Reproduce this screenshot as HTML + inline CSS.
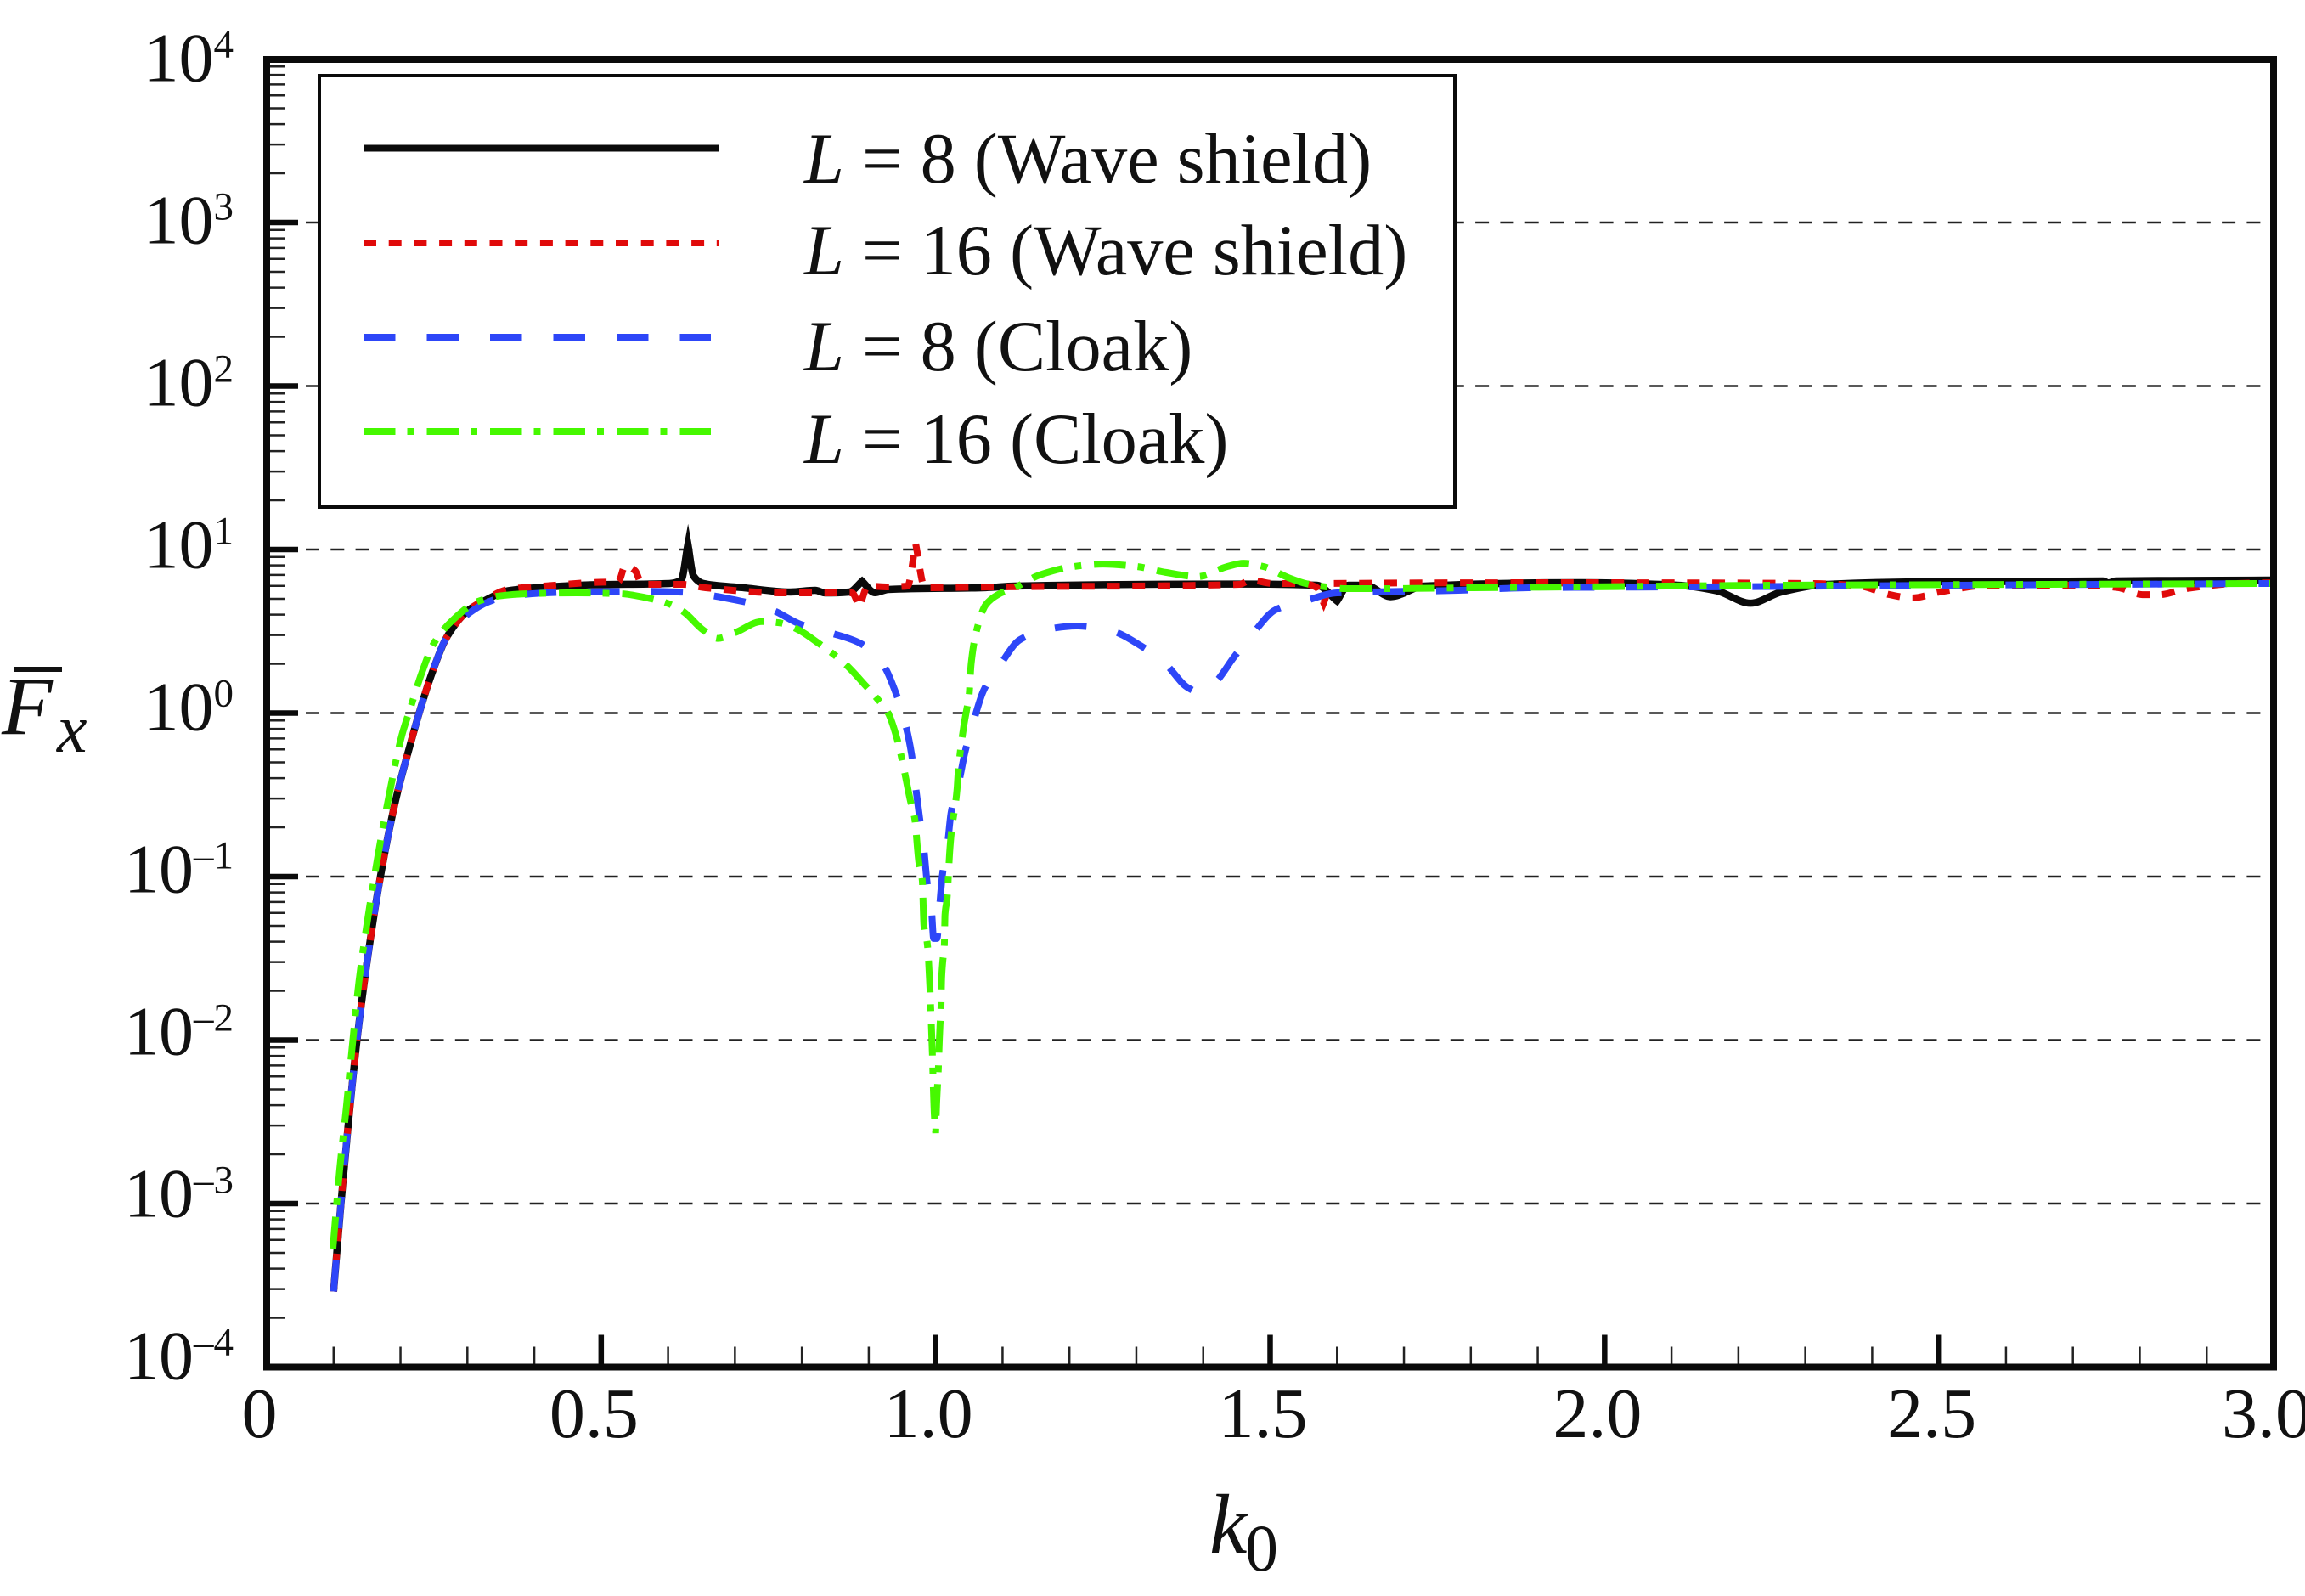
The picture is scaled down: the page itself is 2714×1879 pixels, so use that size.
<!DOCTYPE html>
<html lang="en">
<head>
<meta charset="utf-8">
<title>Mean force versus wavenumber</title>
<style>
html,body{margin:0;padding:0;background:#fff;}
svg{display:block;}
text{font-family:"Liberation Serif",serif;fill:#111;}
</style>
</head>
<body>
<svg id="chart" xmlns="http://www.w3.org/2000/svg" width="2714" height="1879" viewBox="0 0 2714 1879">
  <rect x="0" y="0" width="2714" height="1879" fill="#fff"/>
  <g id="grid"></g>
  <g id="series"></g>
  <g id="ticks"></g>
  <rect x="314" y="70" width="2363" height="1539.5" fill="none" stroke="#0a0a0a" stroke-width="8"/>
  <g id="tick-labels"></g>
  <g>
    <rect x="376" y="89" width="1337" height="508" fill="#fff" stroke="#0a0a0a" stroke-width="4"/>
    <line x1="428" y1="174.500" x2="846" y2="174.500" stroke="#0a0a0a" stroke-width="8"/>
    <line x1="428" y1="286" x2="846" y2="286" stroke="#e00a0a" stroke-width="8" stroke-dasharray="15 14.700"/>
    <line x1="428" y1="397" x2="837" y2="397" stroke="#2d46f8" stroke-width="8" stroke-dasharray="37.500 37"/>
    <line x1="428" y1="508" x2="837" y2="508" stroke="#46f800" stroke-width="8" stroke-dasharray="37.500 14 8 15"/>
    <text x="947" y="215" font-size="84.300"><tspan font-style="italic">L</tspan> = 8 (Wave shield)</text>
    <text x="947" y="323" font-size="84.300"><tspan font-style="italic">L</tspan> = 16 (Wave shield)</text>
    <text x="947" y="436" font-size="84.300"><tspan font-style="italic">L</tspan> = 8 (Cloak)</text>
    <text x="947" y="545" font-size="84.300"><tspan font-style="italic">L</tspan> = 16 (Cloak)</text>
  </g>
  <g>
    <line x1="16" y1="788" x2="73" y2="788" stroke="#111" stroke-width="6"/>
    <text x="2" y="864" font-size="98" font-style="italic">F</text>
    <text x="67" y="885" font-size="80" font-style="italic">x</text>
  </g>
  <g>
    <text x="1424" y="1828" font-size="100" font-style="italic">k</text>
    <text x="1466" y="1849" font-size="78">0</text>
  </g>
</svg>
<script>
// ---- chart data ----
const xTickLabels = ['0', '0.5', '1.0', '1.5', '2.0', '2.5', '3.0'];
const xMajorTicks = [0, 0.5, 1.0, 1.5, 2.0, 2.5, 3.0];
const yExponents = [4, 3, 2, 1, 0, -1, -2, -3, -4];
const yGridExponents = [3, 2, 1, 0, -1, -2, -3];

const waveL8K = [0.100,0.111,0.122,0.135,0.150,0.170,0.194,0.2145,0.226,0.245,0.270,0.303,0.325,0.361,0.419,0.4926,0.602,0.6195,0.6297,0.638,0.6525,0.711,0.783,0.820,0.835,0.871,0.890,0.909,0.929,1.075,1.118,1.454,1.570,1.600,1.617,1.643,1.680,1.730,1.964,2.109,2.167,2.218,2.264,2.331,2.478,2.745,2.753,2.764,3.000];
const waveL8F = [0.00029,0.001,0.00308,0.01,0.03,0.1,0.308,0.64,0.94,1.66,2.95,4.3,4.85,5.6,5.9,6.1,6.2,6.5,10.8,6.9,6.2,5.85,5.5,5.63,5.43,5.5,6.4,5.45,5.7,5.85,5.98,6.15,6.05,4.85,6.05,6.05,5.15,5.98,6.27,6.05,5.6,4.7,5.5,6.12,6.35,6.42,6.25,6.42,6.5];

const waveL16K = [0.100,0.111,0.122,0.135,0.150,0.170,0.194,0.2145,0.226,0.245,0.270,0.303,0.325,0.361,0.419,0.4926,0.5256,0.536,0.551,0.561,0.623,0.656,0.773,0.849,0.875,0.886,0.899,0.929,0.958,0.970,0.984,1.089,1.454,1.471,1.504,1.549,1.570,1.580,1.592,1.964,2.308,2.382,2.426,2.460,2.501,2.575,2.723,2.768,2.804,2.830,2.870,2.945,3.000];
const waveL16F = [0.00029,0.001,0.00308,0.01,0.03,0.1,0.308,0.64,0.94,1.66,2.95,4.3,4.9,5.7,6.0,6.3,6.35,7.97,7.4,6.12,6.12,5.84,5.43,5.43,5.43,4.43,5.98,5.91,5.98,10.9,5.84,5.91,6.12,6.5,6.2,6.2,5.84,4.71,6.2,6.27,6.2,5.98,5.3,5.06,5.5,6.05,6.05,5.84,5.3,5.3,5.77,6.2,6.27];

const cloakL8K = [0.100,0.111,0.122,0.135,0.150,0.170,0.194,0.2145,0.226,0.245,0.270,0.303,0.332,0.361,0.456,0.565,0.616,0.711,0.755,0.798,0.842,0.886,0.922,0.941,0.955,0.964,0.970,0.976,0.9825,0.987,0.994,0.997,1.002,1.006,1.010,1.018,1.023,1.035,1.044,1.057,1.0715,1.097,1.126,1.173,1.210,1.264,1.306,1.344,1.376,1.394,1.417,1.446,1.475,1.508,1.553,1.600,1.650,1.781,1.886,2.140,2.520,3.000];
const cloakL8F = [0.00029,0.001,0.00308,0.01,0.03,0.1,0.308,0.64,0.94,1.66,2.95,4.1,4.8,5.2,5.5,5.55,5.5,4.82,4.28,3.49,3.1,2.69,1.96,1.31,0.85,0.56,0.356,0.229,0.147,0.094,0.0606,0.0418,0.0418,0.0666,0.101,0.161,0.245,0.382,0.58,0.9,1.37,1.99,2.81,3.29,3.41,3.17,2.59,1.99,1.44,1.34,1.53,2.2,3.1,4.28,4.87,5.43,5.5,5.63,5.84,5.91,6.05,6.2];

const cloakL16K = [0.099,0.105,0.109,0.119,0.128,0.138,0.151,0.166,0.183,0.202,0.2145,0.232,0.249,0.278,0.316,0.347,0.390,0.463,0.529,0.565,0.598,0.623,0.6525,0.674,0.700,0.740,0.7655,0.791,0.824,0.8645,0.896,0.9115,0.929,0.943,0.953,0.962,0.9686,0.975,0.980,0.9825,0.9875,0.9915,0.9925,0.995,0.9965,0.998,1.000,1.0015,1.004,1.0055,1.0065,1.008,1.009,1.0105,1.013,1.014,1.017,1.021,1.023,1.032,1.0335,1.042,1.046,1.050,1.053,1.061,1.075,1.093,1.118,1.155,1.206,1.250,1.301,1.344,1.392,1.436,1.460,1.490,1.527,1.553,1.574,1.614,1.672,1.804,1.964,2.256,2.627,3.000];
const cloakL16F = [0.00053,0.00104,0.0016,0.00386,0.00925,0.023,0.055,0.132,0.315,0.73,1.06,1.77,2.63,3.7,4.82,5.2,5.37,5.43,5.37,5.1,4.71,4.17,3.22,2.86,3.1,3.63,3.57,3.29,2.69,2.0,1.46,1.24,1.0,0.68,0.446,0.294,0.228,0.121,0.095,0.05,0.039,0.0206,0.0162,0.0085,0.0052,0.0035,0.0027,0.0041,0.0066,0.0099,0.0123,0.0159,0.0241,0.0298,0.0385,0.0586,0.0727,0.1415,0.178,0.343,0.425,0.83,1.03,1.29,1.99,3.17,4.6,5.3,5.84,6.98,7.87,8.15,7.87,7.25,6.83,7.87,8.25,7.87,6.74,6.2,5.98,5.77,5.77,5.84,5.91,6.05,6.12,6.2];

// ---- axis functions ----
const SVG_NS = 'http://www.w3.org/2000/svg';
const PLOT_LEFT = 314, PLOT_RIGHT = 2677, PLOT_BOTTOM = 1609.5;
const CORNER_SLOPE = 0.6;
function xScale(k) { return PLOT_LEFT + (PLOT_RIGHT - PLOT_LEFT) * k / 3; }
function yScale(f) { return 839.5 - 192.5 * Math.log10(f); }
function make(tag, attrs, parent) {
  const el = document.createElementNS(SVG_NS, tag);
  for (const key in attrs) el.setAttribute(key, attrs[key]);
  parent.appendChild(el);
  return el;
}
// Monotone cubic through the read points; sharp peaks stay as corners.
function pathFrom(ks, fs) {
  const xs = ks.map(xScale);
  const ys = fs.map(yScale);
  const n = xs.length;
  const h = [], d = [];
  for (let i = 0; i < n - 1; i++) {
    h.push(xs[i + 1] - xs[i]);
    d.push((ys[i + 1] - ys[i]) / h[i]);
  }
  const tIn = new Array(n), tOut = new Array(n);
  tIn[0] = tOut[0] = d[0];
  tIn[n - 1] = tOut[n - 1] = d[n - 2];
  for (let i = 1; i < n - 1; i++) {
    const a = d[i - 1], b = d[i];
    if (a * b <= 0) {
      if (Math.min(Math.abs(a), Math.abs(b)) > CORNER_SLOPE) {
        tIn[i] = a;
        tOut[i] = b;
      } else {
        tIn[i] = tOut[i] = 0;
      }
    } else {
      const w1 = 2 * h[i] + h[i - 1], w2 = h[i] + 2 * h[i - 1];
      tIn[i] = tOut[i] = (w1 + w2) / (w1 / a + w2 / b);
    }
  }
  let path = 'M' + xs[0].toFixed(2) + ' ' + ys[0].toFixed(2);
  for (let i = 0; i < n - 1; i++) {
    const c = h[i] / 3;
    path += ' C' + (xs[i] + c).toFixed(2) + ' ' + (ys[i] + tOut[i] * c).toFixed(2) + ' ' +
      (xs[i + 1] - c).toFixed(2) + ' ' + (ys[i + 1] - tIn[i + 1] * c).toFixed(2) + ' ' +
      xs[i + 1].toFixed(2) + ' ' + ys[i + 1].toFixed(2);
  }
  return path;
}

// ---- grid ----
const gridGroup = document.getElementById('grid');
yGridExponents.forEach(function (exp) {
  const y = yScale(Math.pow(10, exp));
  const g = make('line', {x1: PLOT_LEFT, y1: y, x2: PLOT_RIGHT, y2: y, stroke: '#222', 'stroke-width': 2.5, 'stroke-dasharray': '16 13.3', 'stroke-dashoffset': 12.6}, gridGroup);
  
  
});

// ---- series ----
const seriesGroup = document.getElementById('series');
const p1 = make('path', {d: pathFrom(waveL8K, waveL8F), fill: 'none', stroke: '#0a0a0a', 'stroke-width': 8.5, 'stroke-linejoin': 'miter', 'stroke-miterlimit': 12}, seriesGroup);


const p2 = make('path', {d: pathFrom(waveL16K, waveL16F), fill: 'none', stroke: '#e00a0a', 'stroke-width': 8, 'stroke-dasharray': '15 14.7'}, seriesGroup);


const p3 = make('path', {d: pathFrom(cloakL8K, cloakL8F), fill: 'none', stroke: '#2d46f8', 'stroke-width': 8, 'stroke-dasharray': '37.5 37'}, seriesGroup);


const p4 = make('path', {d: pathFrom(cloakL16K, cloakL16F), fill: 'none', stroke: '#46f800', 'stroke-width': 8, 'stroke-dasharray': '37.5 14 8 15'}, seriesGroup);



// ---- ticks ----
const tickGroup = document.getElementById('ticks');
yExponents.forEach(function (exp) {
  const y = yScale(Math.pow(10, exp));
  if (exp > -4 && exp < 4) {
    const major = make('line', {x1: PLOT_LEFT, y1: y, x2: PLOT_LEFT + 37, y2: y, stroke: '#0a0a0a', 'stroke-width': 6.5}, tickGroup);
    
    
  }
  if (exp > -4) {
    for (let m = 2; m <= 9; m++) {
      const ym = yScale(m * Math.pow(10, exp - 1));
      const minor = make('line', {x1: PLOT_LEFT, y1: ym, x2: PLOT_LEFT + 22, y2: ym, stroke: '#222', 'stroke-width': 2.5}, tickGroup);
      
      
    }
  }
});
xMajorTicks.forEach(function (k, i) {
  const x = xScale(k);
  if (i > 0 && i < xMajorTicks.length - 1) {
    const major = make('line', {x1: x, y1: PLOT_BOTTOM, x2: x, y2: PLOT_BOTTOM - 38, stroke: '#0a0a0a', 'stroke-width': 6.5}, tickGroup);
    
    
  }
  if (i < xMajorTicks.length - 1) {
    for (let m = 1; m <= 4; m++) {
      const xm = xScale(k + m * 0.1);
      const minor = make('line', {x1: xm, y1: PLOT_BOTTOM, x2: xm, y2: PLOT_BOTTOM - 24, stroke: '#222', 'stroke-width': 2.5}, tickGroup);
      
      
    }
  }
});

// ---- tick labels ----
const labelGroup = document.getElementById('tick-labels');
yExponents.forEach(function (exp) {
  const y = yScale(Math.pow(10, exp)) + 20 + 1.5 * exp;
  const t = make('text', {x: 275, y: y, 'text-anchor': 'end', 'font-size': 82}, labelGroup);
  
  
  const base = make('tspan', {}, t);
  base.textContent = '10';
  const sup = make('tspan', {'font-size': 47, dy: -28}, t);
  sup.textContent = String(exp).replace('-', '\u2013');
});
xTickLabels.forEach(function (label, i) {
  const t = make('text', {x: xScale(xMajorTicks[i]) - 8.5, y: 1692, 'text-anchor': 'middle', 'font-size': 84}, labelGroup);
  
  
  t.textContent = label;
});
</script>
</body>
</html>
